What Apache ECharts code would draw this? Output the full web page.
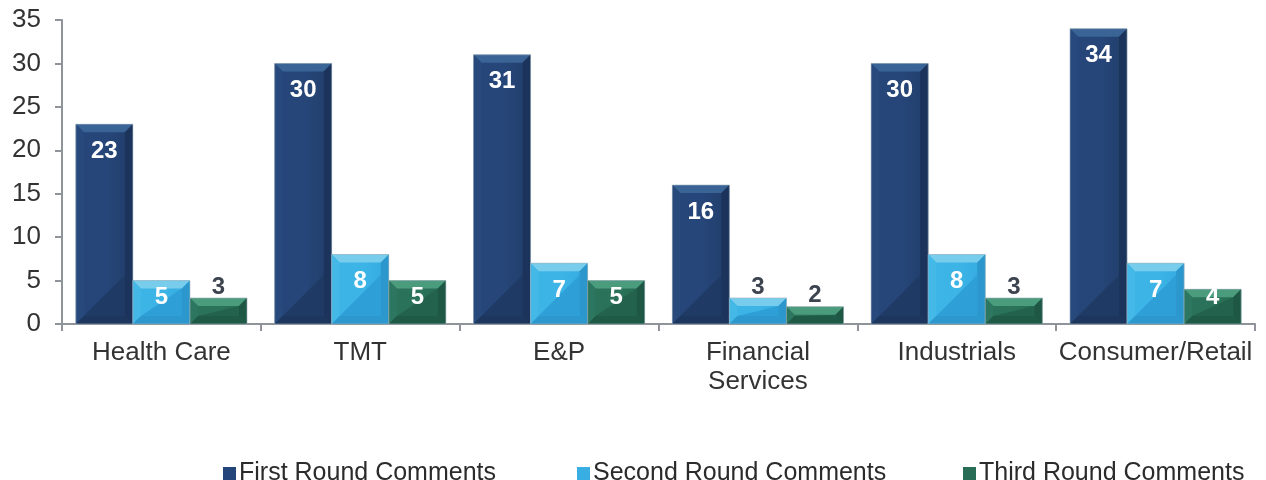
<!DOCTYPE html>
<html>
<head>
<meta charset="utf-8">
<script src="https://cdn.jsdelivr.net/npm/echarts@6/dist/echarts.min.js"></script>
<style>
  html, body { margin: 0; padding: 0; background: #fff; }
  #chart { width: 1266px; height: 480px; }
</style>
</head>
<body>
<div id="chart"></div>
<script>
// chart data
const categories = ['Health Care', 'TMT', 'E&P', 'Financial\nServices', 'Industrials', 'Consumer/Retail']
const seriesNames = ['First Round Comments', 'Second Round Comments', 'Third Round Comments']
const firstRound = [23, 30, 31, 16, 30, 34]
const secondRound = [5, 8, 7, 3, 8, 7]
const thirdRound = [3, 5, 5, 2, 3, 4]

const FONT = '"Liberation Sans", Arial, sans-serif'

// bevel palettes for the three series
const palettes = [
  { faceL: '#264679', faceR: '#213d69', shade: '#1f3a64', top: '#3a6495', left: '#28497c', right: '#1c345b', bottom: '#1d365d', legend: '#24457a' },
  { faceL: '#3cb4e6', faceR: '#34a9df', shade: '#2e9fd7', top: '#78cdec', left: '#44b8e7', right: '#2b97cd', bottom: '#2c98ce', legend: '#38aee3' },
  { faceL: '#2a7259', faceR: '#266a53', shade: '#23634d', top: '#4b9b7d', left: '#2d7760', right: '#1e5744', bottom: '#1f5a46', legend: '#2a6d56' }
]

const chart = echarts.init(document.getElementById('chart'), null, { renderer: 'canvas' })

function makeRenderItem(idx) {
  const pal = palettes[idx]
  return function (params, api) {
    const cat = api.value(0)
    const val = api.value(1)
    const top = api.coord([cat, val])
    const base = api.coord([cat, 0])
    const band = api.size([1, 0])[0]
    const bw = band * 0.287
    const x0 = top[0] + (idx - 1.5) * bw
    const x1 = x0 + bw
    const y0 = top[1]
    const y1 = base[1]
    const h = y1 - y0
    const b = Math.min(8, h / 2, bw / 2)
    const diagTop = Math.max(y0 + b, y1 - b - (bw - 2 * b))

    const children = [
      { type: 'rect', shape: { x: x0, y: y0, width: bw, height: h },
        style: { fill: new echarts.graphic.LinearGradient(0, 0, 1, 0, [
          { offset: 0, color: pal.faceL }, { offset: 0.55, color: pal.faceL }, { offset: 1, color: pal.faceR }]) } },
      { type: 'polygon', shape: { points: [[x0 + b, y1 - b], [x1 - b, y1 - b], [x1 - b, diagTop]] }, style: { fill: pal.shade } },
      { type: 'polygon', shape: { points: [[x0, y0], [x1, y0], [x1 - b, y0 + b], [x0 + b, y0 + b]] }, style: { fill: pal.top } },
      { type: 'polygon', shape: { points: [[x0, y0], [x0 + b, y0 + b], [x0 + b, y1 - b], [x0, y1]] }, style: { fill: pal.left } },
      { type: 'polygon', shape: { points: [[x1, y0], [x1 - b, y0 + b], [x1 - b, y1 - b], [x1, y1]] }, style: { fill: pal.right } },
      { type: 'polygon', shape: { points: [[x0, y1], [x0 + b, y1 - b], [x1 - b, y1 - b], [x1, y1]] }, style: { fill: pal.bottom } },
      { type: 'rect', shape: { x: x0, y: y0, width: bw, height: h }, style: { fill: 'none', stroke: 'rgba(160,178,190,0.6)', lineWidth: 1 } }
    ]

    // label: inside near the top, pushed up for short bars, above when it does not fit
    let ly, color
    if (h < 30) {
      ly = y0 - 11
      color = '#3d4450'
    } else {
      ly = Math.min(y0 + 27, y1 - 27)
      color = '#ffffff'
    }
    children.push({
      type: 'text',
      z2: 10,
      style: {
        text: String(val), x: (x0 + x1) / 2, y: ly,
        align: 'center', verticalAlign: 'middle',
        textAlign: 'center', textVerticalAlign: 'middle',
        font: 'bold 24px ' + FONT, fill: color
      }
    })
    return { type: 'group', children: children }
  }
}

function seriesData(values) {
  return values.map(function (v, i) { return [i, v] })
}

const allValues = [firstRound, secondRound, thirdRound]

function legendAt(name, left) {
  return {
    data: [name],
    left: left,
    top: 456,
    icon: 'rect',
    itemWidth: 13,
    itemHeight: 13,
    itemGap: 0,
    textStyle: { fontFamily: FONT, fontSize: 25, color: '#2b2b2b', padding: [0, 0, 0, -2] }
  }
}

chart.setOption({
  animation: false,
  grid: { left: 62, right: 11, top: 20, bottom: 156 },
  legend: [
    legendAt(seriesNames[0], 218),
    legendAt(seriesNames[1], 572),
    legendAt(seriesNames[2], 958)
  ],
  xAxis: {
    type: 'category',
    data: categories,
    axisLine: { lineStyle: { color: '#8e9499', width: 2 } },
    axisTick: { show: true, length: 7, lineStyle: { color: '#8e9499', width: 2 } },
    axisLabel: { fontFamily: FONT, fontSize: 26, color: '#333333', margin: 14, lineHeight: 29, interval: 0 },
    splitLine: { show: false }
  },
  yAxis: {
    type: 'value',
    min: 0,
    max: 35,
    interval: 5,
    axisLine: { show: true, lineStyle: { color: '#8e9499', width: 2 } },
    axisTick: { show: true, length: 7, lineStyle: { color: '#8e9499', width: 2 } },
    axisLabel: { fontFamily: FONT, fontSize: 26, color: '#333333', margin: 21 },
    splitLine: { show: false }
  },
  series: allValues.map(function (vals, idx) {
    return {
      name: seriesNames[idx],
      type: 'custom',
      renderItem: makeRenderItem(idx),
      encode: { x: 0, y: 1 },
      itemStyle: { color: palettes[idx].legend },
      data: seriesData(vals),
      z: 1
    }
  })
})
</script>
</body>
</html>
